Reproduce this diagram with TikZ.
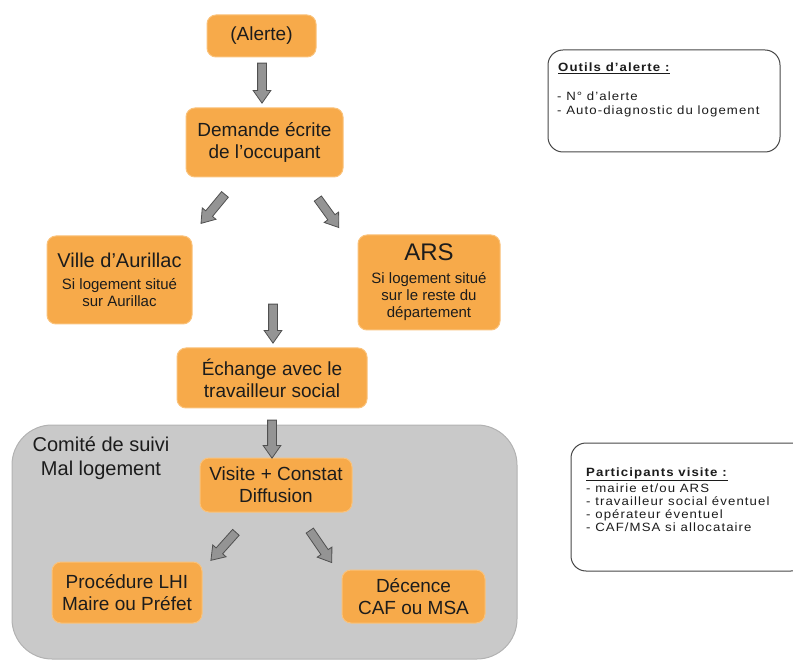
\documentclass[tikz,border=0pt]{standalone}
\usepackage{fontspec}
\setmainfont{Liberation Sans}
\newfontfamily\boxfont[LetterSpace=9,FakeStretch=1.1]{Liberation Sans}
\usetikzlibrary{shapes.arrows}
\definecolor{ora}{RGB}{247,170,74}
\definecolor{oraedge}{RGB}{250,194,122}
\definecolor{cont}{RGB}{201,201,201}
\definecolor{contedge}{RGB}{178,178,178}
\definecolor{arrfill}{RGB}{148,148,148}
\definecolor{arredge}{RGB}{80,80,80}
\definecolor{txt}{RGB}{28,28,28}
\begin{document}
\begin{tikzpicture}[x=1pt,y=-1pt,
  obox/.style={fill=ora, draw=oraedge, line width=1pt, rounded corners=9pt,
    align=center, text=txt, inner sep=0pt, font=\fontsize{19}{22}\selectfont},
  subbox/.style={obox, font=\fontsize{15}{17}\selectfont},
  barrow/.style={single arrow, sloped, allow upside down, fill=arrfill,
    draw=arredge, line width=0.8pt, inner xsep=0pt, inner ysep=4pt,
    single arrow head extend=4.5pt, single arrow tip angle=70},
  infobox/.style={draw=black!72, line width=1pt, rounded corners=15pt, fill=white},
  infotext/.style={anchor=base west, inner sep=0pt, text=txt,
    font=\boxfont\fontsize{12}{12}\selectfont}
]
\useasboundingbox (0,0) rectangle (793,660);

% grey container
\node[draw=contedge, fill=cont, line width=1pt, rounded corners=40pt,
  minimum width=505pt, minimum height=234pt, inner sep=0pt] (comite) at (264.5,542) {};
\node[align=center, text=txt, inner sep=0pt, font=\fontsize{20}{24}\selectfont]
  (comitelbl) at (101,458) {Comité de suivi\\Mal logement};

% orange boxes
\node[obox, minimum width=109pt, minimum height=42pt] (alerte) at (261.5,36) {(Alerte)};
\node[obox, minimum width=157pt, minimum height=69pt] (demande) at (264.5,142.5)
  {Demande écrite\\de l'occupant};
\node[subbox, minimum width=145pt, minimum height=88pt] (ville) at (119.5,280)
  {{\fontsize{20}{17}\selectfont Ville d’Aurillac}\\[5pt]Si logement situé\\sur Aurillac};
\node[subbox, minimum width=142pt, minimum height=95pt] (ars) at (429,282.5)
  {{\fontsize{24}{17}\selectfont ARS}\\[6pt]Si logement situé\\sur le reste du\\département};
\node[obox, minimum width=190pt, minimum height=60pt] (echange) at (272,378)
  {Échange avec le\\travailleur social};
\node[obox, minimum width=152pt, minimum height=54pt] (visite) at (276,485)
  {Visite + Constat\\Diffusion};
\node[obox, minimum width=150pt, minimum height=61pt] (lhi) at (127,592.5)
  {Procédure LHI\\Maire ou Préfet};
\node[obox, minimum width=143pt, minimum height=53pt] (decence) at (413.5,596.5)
  {Décence\\CAF ou MSA};

% block arrows
\coordinate (a1s) at (262,60);  \coordinate (a1e) at (262,100);
\coordinate (a2s) at (227,192); \coordinate (a2e) at (203,221);
\coordinate (a3s) at (316,196); \coordinate (a3e) at (337,225);
\coordinate (a4s) at (273,301); \coordinate (a4e) at (273,340);
\coordinate (a5s) at (272,417); \coordinate (a5e) at (272,455);
\coordinate (a6s) at (238,530); \coordinate (a6e) at (213,558);
\coordinate (a7s) at (308,528); \coordinate (a7e) at (330,560);
\path (a1s) -- node[barrow, minimum height=40pt] (arr1) {} (a1e);
\path (a2s) -- node[barrow, minimum height=37.6pt] (arr2) {} (a2e);
\path (a3s) -- node[barrow, minimum height=35.8pt] (arr3) {} (a3e);
\path (a4s) -- node[barrow, minimum height=39pt] (arr4) {} (a4e);
\path (a5s) -- node[barrow, minimum height=38pt] (arr5) {} (a5e);
\path (a6s) -- node[barrow, minimum height=37.5pt] (arr6) {} (a6e);
\path (a7s) -- node[barrow, minimum height=38.8pt] (arr7) {} (a7e);

% info boxes
\node[infobox, minimum width=232pt, minimum height=102pt, inner sep=0pt] (outils) at (664,101) {};
\node[infotext] (outilst) at (558,71.5) {\underline{\textbf{Outils d’alerte :}}};
\node[infotext] (outils1) at (557,100.5) {- N° d’alerte};
\node[infotext] (outils2) at (557,115) {- Auto-diagnostic du logement};

\node[infobox, minimum width=235pt, minimum height=128pt, inner sep=0pt] (partic) at (688.5,507) {};
\node[infotext] (partict) at (586,476.5) {\underline{\textbf{Participants visite :}}};
\node[infotext] (partic1) at (586,492) {- mairie et/ou ARS};
\node[infotext] (partic2) at (586,505) {- travailleur social éventuel};
\node[infotext] (partic3) at (586,518) {- opérateur éventuel};
\node[infotext] (partic4) at (586,531) {- CAF/MSA si allocataire};
\end{tikzpicture}
\end{document}
